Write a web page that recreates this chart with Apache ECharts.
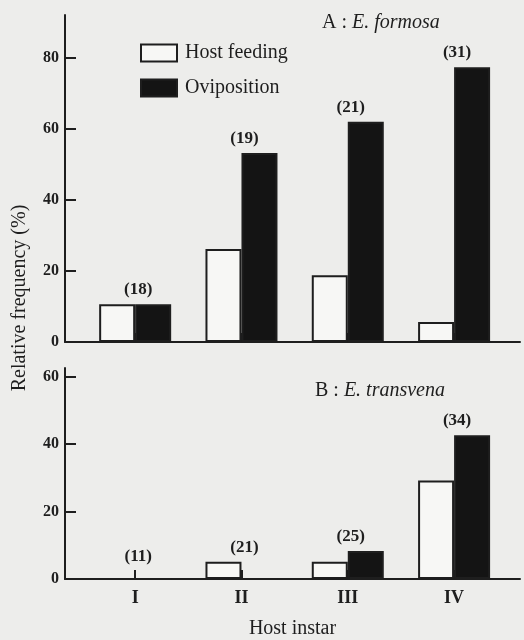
<!DOCTYPE html>
<html>
<head>
<meta charset="utf-8">
<script src="https://cdn.jsdelivr.net/npm/echarts@6/dist/echarts.min.js"></script>
<style>
html,body{margin:0;padding:0;background:#ededeb;}
#c{width:524px;height:640px;}
</style>
</head>
<body>
<div id="c"></div>
<script>
var categories = ['I', 'II', 'III', 'IV'];
var catPos = [1, 2, 3, 4];
var hostFeedingA = [10.6, 26.2, 18.8, 5.6];
var ovipositionA = [10.6, 53.2, 62.0, 77.3];
var countsA = [18, 19, 21, 31];
var hostFeedingB = [0, 5.1, 5.1, 29.2];
var ovipositionB = [0, 0, 8.3, 42.6];
var countsB = [11, 21, 25, 34];
var yTicksA = [0, 20, 40, 60, 80];
var yTicksB = [0, 20, 40, 60];

var FONT = '"Liberation Serif", "DejaVu Serif", serif';
var INK = '#1e1e1e';

function pairs(vals) { return catPos.map(function (p, i) { return [p, vals[i]]; }); }
function tops(a, b, counts) { return catPos.map(function (p, i) { return [p, Math.max(a[i], b[i]), counts[i]]; }); }

function xAxisDef(idx, showLabels) {
  return {
    type: 'value', gridIndex: idx, min: 0.34, max: 4.62,
    splitLine: { show: false },
    axisLine: { lineStyle: { color: INK, width: 2 } },
    axisTick: { show: true, inside: true, length: 9, customValues: catPos, lineStyle: { color: INK, width: 2 } },
    axisLabel: {
      show: showLabels, customValues: catPos, margin: 10,
      formatter: function (v) { return categories[Math.round(v) - 1] || ''; },
      fontFamily: FONT, fontSize: 18, fontWeight: 'bold', color: INK
    },
    name: showLabels ? 'Host instar' : '',
    nameLocation: 'middle', nameGap: 40,
    nameTextStyle: { fontFamily: FONT, fontSize: 20, color: INK }
  };
}
function yAxisDef(idx, max, ticks) {
  return {
    type: 'value', gridIndex: idx, min: 0, max: max,
    splitLine: { show: false },
    axisLine: { show: true, lineStyle: { color: INK, width: 2 } },
    axisTick: { show: true, inside: true, length: 11, customValues: ticks, lineStyle: { color: INK, width: 2 } },
    axisLabel: { customValues: ticks, margin: 6, fontFamily: FONT, fontSize: 16, fontWeight: 'bold', color: INK }
  };
}
function barSeries(name, idx, vals, fill) {
  return {
    type: 'bar', name: name, xAxisIndex: idx, yAxisIndex: idx,
    data: pairs(vals), barWidth: 36, barGap: '0%',
    itemStyle: { color: fill, borderColor: INK, borderWidth: 2 },
    z: 3
  };
}
function labelSeries(idx, a, b, counts) {
  return {
    type: 'custom', xAxisIndex: idx, yAxisIndex: idx, silent: true,
    data: tops(a, b, counts),
    encode: { x: 0, y: 1 },
    renderItem: function (params, api) {
      var pt = api.coord([api.value(0), api.value(1)]);
      var extra = api.value(1) === 0 ? 8 : 0;
      return {
        type: 'text', x: pt[0] + 3, y: pt[1] - 6 - extra,
        style: {
          text: '(' + api.value(2) + ')', fill: INK, align: 'center', verticalAlign: 'bottom',
          font: 'bold 17px ' + FONT
        }
      };
    },
    z: 4
  };
}
function titleRich() {
  return {
    fontWeight: 'normal',
    rich: {
      n: { fontFamily: FONT, fontSize: 20, fontWeight: 'normal', color: INK },
      i: { fontFamily: FONT, fontSize: 20, fontWeight: 'normal', fontStyle: 'italic', color: INK }
    }
  };
}

var chart = echarts.init(document.getElementById('c'), null, { renderer: 'canvas' });
chart.setOption({
  backgroundColor: '#ededeb',
  animation: false,
  textStyle: { fontFamily: FONT },
  grid: [
    { left: 65, right: 4, top: 15, bottom: 298, containLabel: false },
    { left: 65, right: 4, top: 368, bottom: 51, containLabel: false }
  ],
  xAxis: [xAxisDef(0, false), xAxisDef(1, true)],
  yAxis: [yAxisDef(0, 92, yTicksA), yAxisDef(1, 62.5, yTicksB)],
  legend: {
    orient: 'vertical', left: 135, top: 38, itemWidth: 36, itemHeight: 17, itemGap: 15,
    icon: 'rect',
    data: ['Host feeding', 'Oviposition'],
    textStyle: { fontFamily: FONT, fontSize: 20, color: INK, padding: [0, 0, 0, 3] }
  },
  title: [
    { text: '{n|A : }{i|E. formosa}', left: 317, top: 8, textStyle: titleRich() },
    { text: '{n|B : }{i|E. transvena}', left: 310, top: 376, textStyle: titleRich() }
  ],
  graphic: [{
    type: 'text', x: 20, y: 298, rotation: Math.PI / 2,
    style: { text: 'Relative frequency (%)', font: '20px ' + FONT, fill: INK, align: 'center', verticalAlign: 'middle' }
  }],
  series: [
    barSeries('Host feeding', 0, hostFeedingA, '#f7f7f5'),
    barSeries('Oviposition', 0, ovipositionA, '#141414'),
    labelSeries(0, hostFeedingA, ovipositionA, countsA),
    barSeries('Host feeding', 1, hostFeedingB, '#f7f7f5'),
    barSeries('Oviposition', 1, ovipositionB, '#141414'),
    labelSeries(1, hostFeedingB, ovipositionB, countsB)
  ]
});
</script>
</body>
</html>
